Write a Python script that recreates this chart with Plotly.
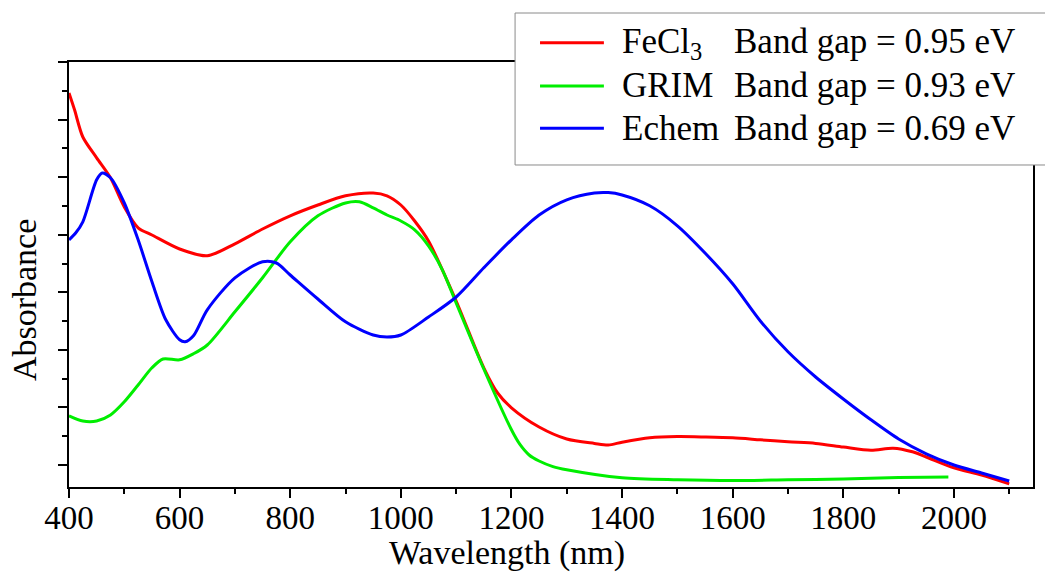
import plotly.graph_objects as go

# Absorption spectra (arbitrary absorbance units) vs wavelength in nm
fecl3_wl = [400, 410, 425, 450, 475, 500, 525, 550, 600, 650, 700, 750, 800, 850, 900, 950, 975,
            1000, 1025, 1050, 1100, 1150, 1175, 1200, 1250, 1300, 1350, 1375, 1400, 1450, 1500,
            1550, 1600, 1650, 1700, 1750, 1800, 1850, 1890, 1925, 1950, 2000, 2050, 2100]
fecl3_abs = [0.985, 0.943, 0.875, 0.823, 0.773, 0.700, 0.648, 0.630, 0.595, 0.578, 0.608, 0.645,
             0.678, 0.705, 0.728, 0.735, 0.728, 0.705, 0.665, 0.615, 0.465, 0.298, 0.235, 0.198,
             0.150, 0.120, 0.109, 0.105, 0.112, 0.123, 0.126, 0.125, 0.123, 0.118, 0.113,
             0.109, 0.100, 0.092, 0.097, 0.088, 0.075, 0.048, 0.030, 0.008]

grim_wl = [400, 425, 450, 475, 500, 525, 550, 570, 600, 625, 650, 700, 750, 800, 850, 900,
           925, 950, 975, 1000, 1025, 1050, 1075, 1100, 1150, 1200, 1215, 1232, 1250, 1275,
           1300, 1400, 1500, 1600, 1700, 1800, 1900, 1990]
grim_abs = [0.178, 0.165, 0.165, 0.180, 0.213, 0.255, 0.298, 0.320, 0.318, 0.333, 0.355,
            0.438, 0.523, 0.613, 0.678, 0.710, 0.713, 0.698, 0.680, 0.665, 0.643, 0.603,
            0.543, 0.460, 0.295, 0.143, 0.107, 0.080, 0.065, 0.051, 0.043, 0.023, 0.018,
            0.016, 0.018, 0.020, 0.024, 0.025]

echem_wl = [400, 412, 425, 450, 460, 475, 500, 525, 550, 575, 600, 610, 625, 650, 700, 750, 775,
            800, 850, 900, 950, 975, 1000, 1050, 1100, 1150, 1200, 1250, 1300, 1350, 1375,
            1400, 1450, 1500, 1550, 1600, 1650, 1700, 1750, 1800, 1850, 1900, 1950, 2000,
            2050, 2100]
echem_abs = [0.618, 0.635, 0.663, 0.768, 0.785, 0.773, 0.710, 0.618, 0.513, 0.418, 0.368, 0.363,
             0.378, 0.443, 0.523, 0.563, 0.560, 0.530, 0.470, 0.413, 0.380, 0.375, 0.380,
             0.425, 0.475, 0.548, 0.618, 0.680, 0.718, 0.735, 0.736, 0.730, 0.703, 0.653,
             0.585, 0.508, 0.415, 0.338, 0.275, 0.220, 0.168, 0.120, 0.083, 0.055, 0.035,
             0.015]

series_labels = ["FeCl<sub>3</sub>", "GRIM", "Echem"]
band_gaps_ev = [0.95, 0.93, 0.69]
series_colors = ["#FF0000", "#00EE00", "#0000FF"]

FONT = "Liberation Serif, Times New Roman, serif"

fig = go.Figure()
for wl, ab, label, gap, color in zip([fecl3_wl, grim_wl, echem_wl],
                                     [fecl3_abs, grim_abs, echem_abs],
                                     series_labels, band_gaps_ev, series_colors):
    fig.add_trace(go.Scatter(x=wl, y=ab, mode="lines",
                             name=f"{label} Band gap = {gap:.2f} eV", showlegend=False,
                             line=dict(color=color, width=3, shape="spline", smoothing=0.8)))

fig.update_layout(
    width=1045, height=580, autosize=False,
    margin=dict(l=69, r=10, t=62, b=93),
    paper_bgcolor="white", plot_bgcolor="white",
    font=dict(family=FONT, color="black"),
)

fig.update_xaxes(
    range=[400, 2143], tickmode="linear", tick0=400, dtick=200,
    showline=True, linewidth=2, linecolor="black", mirror=True,
    ticks="outside", ticklen=9, tickwidth=2, tickcolor="black",
    minor=dict(ticks="outside", ticklen=5, tickwidth=2, tickcolor="black",
               tick0=400, dtick=100),
    showgrid=False, zeroline=False, ticklabelstandoff=-9,
    tickfont=dict(family=FONT, size=33, color="black"),
)
fig.update_yaxes(
    range=[0, 1.0625], tickmode="linear", tick0=0.055, dtick=0.14393,
    showticklabels=False,
    showline=True, linewidth=2, linecolor="black", mirror=True,
    ticks="outside", ticklen=9, tickwidth=2, tickcolor="black",
    minor=dict(ticks="outside", ticklen=5, tickwidth=2, tickcolor="black",
               tick0=0.055, dtick=0.071965),
    showgrid=False, zeroline=False,
)

# Axis titles
fig.add_annotation(text="Wavelength (nm)", xref="paper", yref="paper",
                   x=0.4545, y=-0.155, xanchor="center", yanchor="middle",
                   showarrow=False, font=dict(family=FONT, size=34, color="black"))
fig.add_annotation(text="Absorbance", xref="paper", yref="paper",
                   x=-0.0466, y=0.44, xanchor="center", yanchor="middle", textangle=-90,
                   showarrow=False, font=dict(family=FONT, size=34, color="black"))

# Legend box (runs off the right edge) with line keys and a two-column label
box_l, box_r, box_b, box_t = 0.46273, 1.2, 0.75765, 1.11529
fig.add_shape(type="rect", xref="paper", yref="paper",
              x0=box_l, x1=box_r, y0=box_b, y1=box_t,
              line=dict(width=0), fillcolor="white", layer="above")
fig.add_shape(type="path", xref="paper", yref="paper",
              path=f"M {box_r},{box_t} L {box_l},{box_t} L {box_l},{box_b} L {box_r},{box_b}",
              line=dict(color="#8a8a8a", width=1), layer="above")
key_rows = [1.0454, 0.94353, 0.84400]
text_tops = [1.0989, 0.9953, 0.8941]
for label, gap, color, yk, yt in zip(series_labels, band_gaps_ev, series_colors,
                                     key_rows, text_tops):
    fig.add_shape(type="line", xref="paper", yref="paper",
                  x0=0.48861, x1=0.55487, y0=yk, y1=yk,
                  line=dict(color=color, width=3), layer="above")
    fig.add_annotation(text=label, xref="paper", yref="paper",
                       x=0.57143, y=yt, xanchor="left", yanchor="top", showarrow=False,
                       font=dict(family=FONT, size=35, color="black"))
    fig.add_annotation(text=f"Band gap = {gap:.2f} eV", xref="paper", yref="paper",
                       x=0.68737, y=yt, xanchor="left", yanchor="top", showarrow=False,
                       font=dict(family=FONT, size=35, color="black"))

fig.write_html("out.html")
